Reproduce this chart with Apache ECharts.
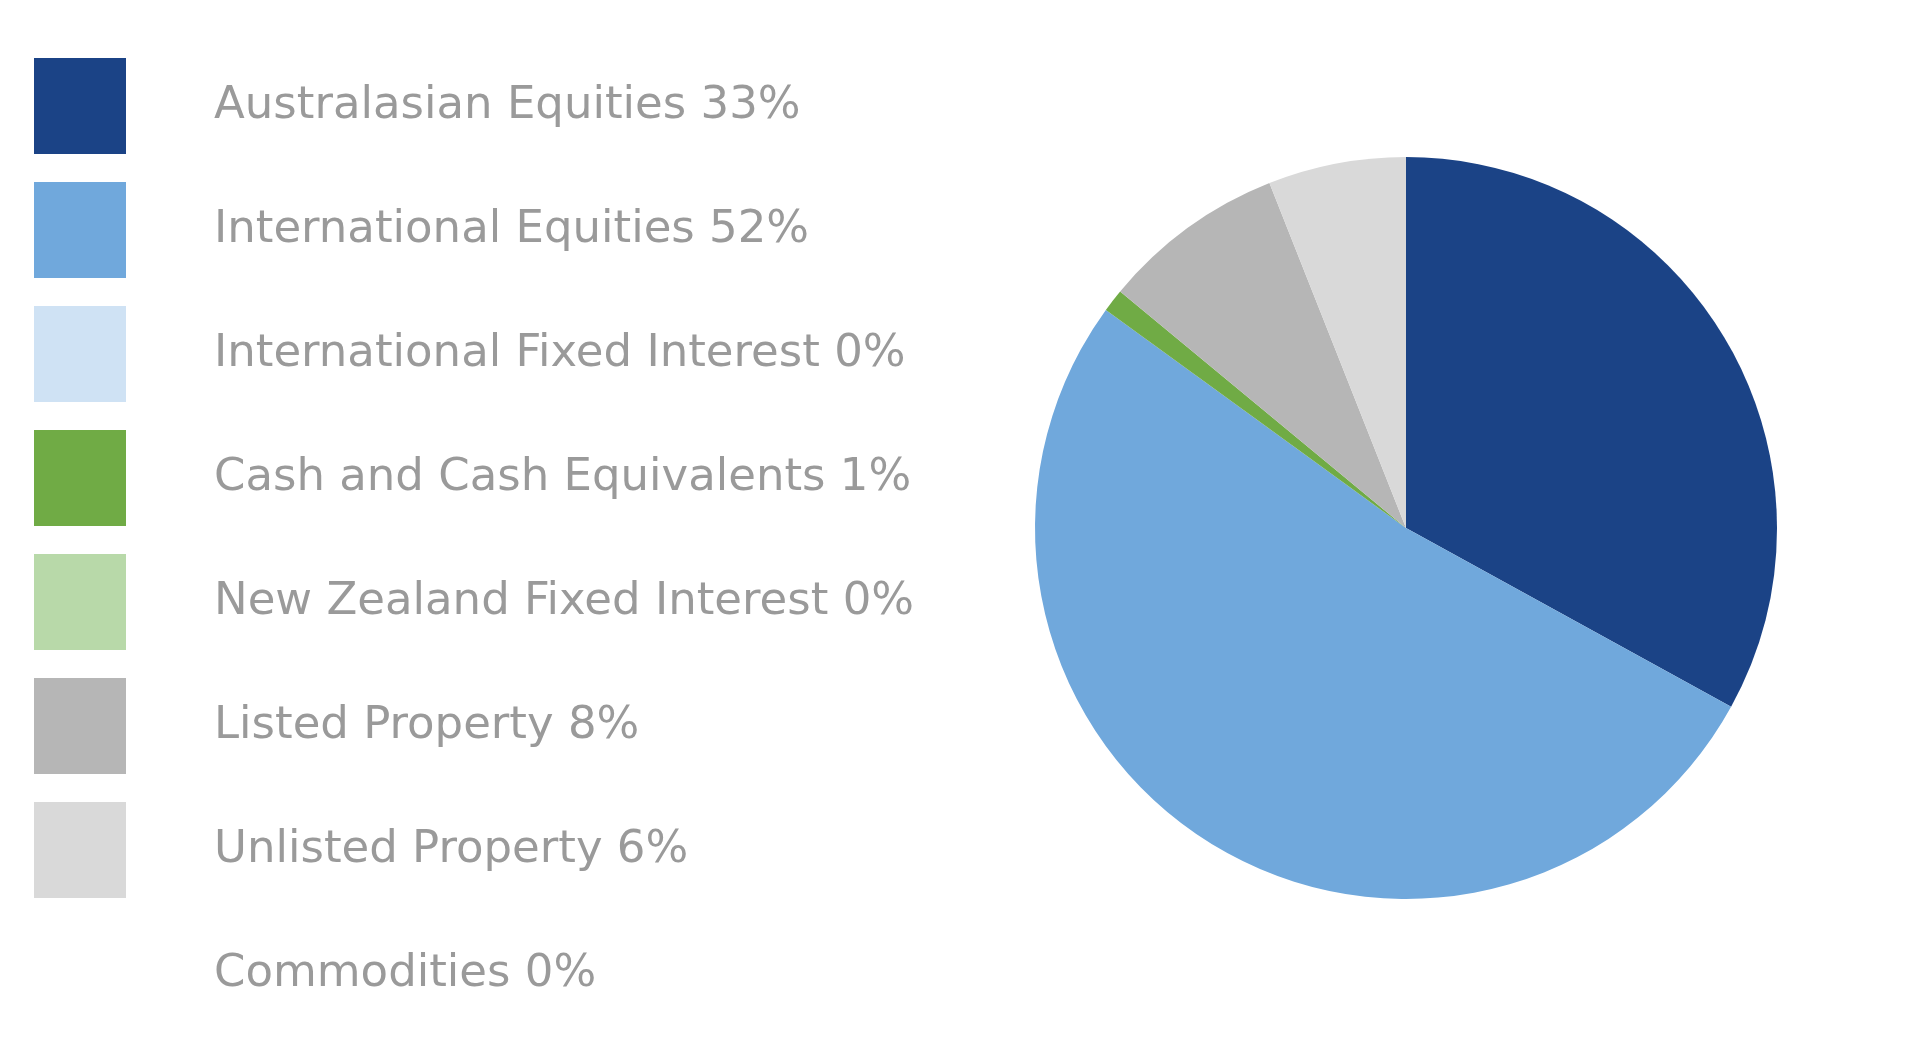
<!DOCTYPE html><html><head><meta charset="utf-8"><script src="https://cdn.jsdelivr.net/npm/echarts@6/dist/echarts.min.js"></script>
<style>html,body{margin:0;padding:0;background:#fff}#c{width:1920px;height:1056px}</style></head><body><div id="c"></div><script>
const categories=["Australasian Equities","International Equities","International Fixed Interest","Cash and Cash Equivalents","New Zealand Fixed Interest","Listed Property","Unlisted Property","Commodities"];
const values=[33,52,0,1,0,8,6,0];
const colors=["#1b4386","#70a8dc","#cfe2f4","#70ab45","#b8d9a9","#b6b6b6","#d9d9d9","#ffffff"];
const chart=echarts.init(document.getElementById('c'));
chart.setOption({
 animation:false,
 legend:{orient:'vertical',left:34,top:58,padding:0,itemWidth:92,itemHeight:96,itemGap:28,icon:'rect',
  data:categories,
  formatter:n=>n+' '+values[categories.indexOf(n)]+'%',
  textStyle:{fontFamily:'DejaVu Sans',fontSize:45,color:'#9a9a9a',padding:[0,0,26,83]}},
 series:[{type:'pie',center:[1406,528],radius:371,startAngle:90,clockwise:true,label:{show:false},
  stillShowZeroSum:true,silent:true,itemStyle:{borderWidth:0},
  data:categories.map((n,i)=>({name:n,value:values[i],itemStyle:{color:colors[i]}}))}]
});
</script></body></html>
